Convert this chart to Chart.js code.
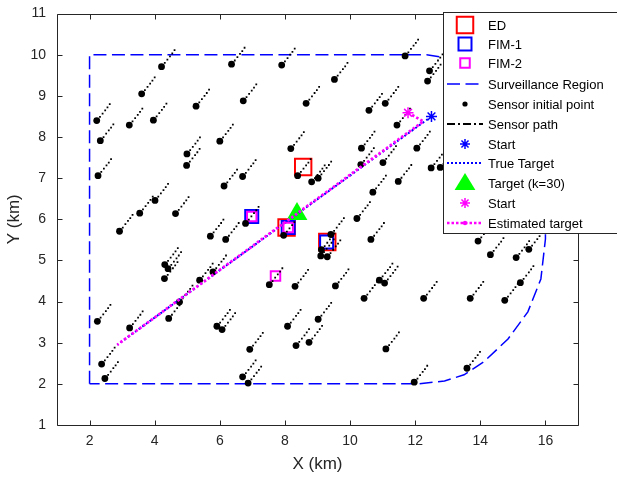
<!DOCTYPE html>
<html>
<head>
<meta charset="utf-8">
<script src="https://cdn.jsdelivr.net/npm/chart.js@4.4.0/dist/chart.umd.min.js"></script>
<style>
  html, body { margin: 0; padding: 0; background: #fff; }
  #wrap { width: 617px; height: 477px; }
</style>
</head>
<body>
<div id="wrap"><canvas id="trackChart" width="617" height="477"></canvas></div>
<script>
// axis ticks (km)
const xTicks = [2, 4, 6, 8, 10, 12, 14, 16];
const yTicks = [1, 2, 3, 4, 5, 6, 7, 8, 9, 10, 11];

// surveillance region outline
const regionX = [2, 2, 12.35, 12.77, 13.6, 14.5, 15.3, 15.8, 16.0, 16.0, 15.86, 15.46, 14.85, 14.1, 13.5, 12.9, 12.07, 2];
const regionY = [2, 10, 10, 9.95, 9.75, 9.3, 8.5, 7.6, 6.6, 5.52, 4.55, 3.75, 3.09, 2.53, 2.22, 2.07, 2.0, 2];

// sensor initial positions
const sensorX = [4.21, 6.36, 3.60, 6.72, 5.27, 2.22, 3.22, 3.96, 2.33, 6.00,
                 4.99, 4.98, 2.26, 6.70, 6.13, 4.01, 7.90, 11.69, 9.52, 12.44,
                 12.38, 8.65, 10.58, 11.08, 11.44, 8.18, 10.35, 12.05, 8.39, 8.82,
                 9.02, 10.33, 11.01, 12.49, 12.77, 11.48, 10.70, 2.92, 3.54, 4.64,
                 6.79, 5.71, 6.18, 4.31, 4.41, 4.30, 5.79, 5.38, 4.76, 2.24,
                 3.23, 4.43, 5.91, 6.07, 2.37, 2.47, 6.70, 6.87, 6.92, 7.96,
                 10.21, 9.41, 9.12, 9.10, 9.30, 10.64, 7.52, 8.31, 9.55, 10.43,
                 10.90, 11.06, 12.26, 8.08, 9.02, 8.34, 8.74, 11.10, 11.97, 13.93,
                 14.31, 15.10, 15.49, 15.23, 13.69, 14.75, 13.59];
const sensorY = [9.71, 9.77, 9.05, 8.88, 8.75, 8.40, 8.29, 8.41, 7.91, 7.90,
                 7.59, 7.31, 7.06, 7.04, 6.81, 6.46, 9.75, 9.97, 9.40, 9.61,
                 9.36, 8.82, 8.65, 8.82, 8.29, 7.72, 7.73, 7.73, 7.06, 6.91,
                 7.00, 7.33, 7.38, 7.25, 7.26, 6.92, 6.66, 5.71, 6.15, 6.14,
                 5.90, 5.59, 5.51, 4.90, 4.80, 4.56, 4.72, 4.52, 3.99, 3.52,
                 3.36, 3.59, 3.40, 3.32, 2.48, 2.13, 2.17, 2.02, 2.84, 5.61,
                 6.02, 5.63, 5.26, 5.11, 5.09, 5.51, 4.41, 4.37, 4.38, 4.08,
                 4.52, 4.45, 4.08, 3.40, 3.57, 2.93, 3.01, 2.85, 2.04, 5.47,
                 5.14, 5.07, 5.27, 4.46, 4.08, 4.03, 2.38];

// sensor path steps, offset from the initial point
const pathDX = [0.10, 0.18, 0.26, 0.33, 0.40];
const pathDY = [0.09, 0.17, 0.25, 0.32, 0.40];

// target tracks
const trueX = [12.5, 2.85];
const trueY = [8.5, 2.95];
const estX = [11.78, 12.25, 2.85];
const estY = [8.59, 8.38, 2.95];
const targetK30X = [8.37];
const targetK30Y = [6.13];

// selected sensors per criterion
const edX = [8.56, 8.05, 9.30];
const edY = [7.27, 5.80, 5.45];
const fim1X = [6.98, 8.10, 9.28];
const fim1Y = [6.07, 5.80, 5.45];
const fim2X = [6.98, 8.10, 7.71];
const fim2Y = [6.07, 5.80, 4.62];

const FONT = "'Liberation Sans', Arial, Helvetica, sans-serif";
const AXIS_GREY = '#262626';

function pts(xs, ys) {
    return xs.map((x, i) => ({ x: x, y: ys[i] }));
}

const pathPoints = [];
sensorX.forEach((sx, i) => {
    pathDX.forEach((dx, k) => {
        pathPoints.push({ x: sx + dx, y: sensorY[i] + pathDY[k] });
    });
});

// box around the axes with inward ticks on all four sides
const axesFrame = {
    id: 'axesFrame',
    afterDatasetsDraw(chart) {
        const { ctx, chartArea: a, scales } = chart;
        const l = Math.round(a.left) + 0.5, r = Math.round(a.right) + 0.5;
        const t = Math.round(a.top) + 0.5, b = Math.round(a.bottom) + 0.5;
        ctx.save();
        ctx.strokeStyle = AXIS_GREY;
        ctx.lineWidth = 1;
        ctx.beginPath();
        ctx.rect(l, t, r - l, b - t);
        xTicks.forEach(v => {
            const px = Math.round(scales.x.getPixelForValue(v)) + 0.5;
            ctx.moveTo(px, b); ctx.lineTo(px, b - 5);
            ctx.moveTo(px, t); ctx.lineTo(px, t + 5);
        });
        yTicks.forEach(v => {
            const py = Math.round(scales.y.getPixelForValue(v)) + 0.5;
            ctx.moveTo(l, py); ctx.lineTo(l + 5, py);
            ctx.moveTo(r, py); ctx.lineTo(r - 5, py);
        });
        ctx.stroke();
        ctx.restore();
    }
};

function drawAsterisk(ctx, x, y, r, color) {
    ctx.save();
    ctx.strokeStyle = color;
    ctx.lineWidth = 1.5;
    ctx.beginPath();
    const d = r * Math.SQRT1_2;
    ctx.moveTo(x - r, y); ctx.lineTo(x + r, y);
    ctx.moveTo(x, y - r); ctx.lineTo(x, y + r);
    ctx.moveTo(x - d, y - d); ctx.lineTo(x + d, y + d);
    ctx.moveTo(x - d, y + d); ctx.lineTo(x + d, y - d);
    ctx.stroke();
    ctx.restore();
}

function drawSample(ctx, x0, x1, y, color, width, dash) {
    ctx.save();
    ctx.strokeStyle = color;
    ctx.lineWidth = width;
    ctx.setLineDash(dash);
    ctx.beginPath();
    ctx.moveTo(x0, y); ctx.lineTo(x1, y);
    ctx.stroke();
    ctx.restore();
}

// legend box in the upper right, one row per dataset
const legendBox = {
    id: 'legendBox',
    afterDraw(chart) {
        const ctx = chart.ctx;
        const bx = 443.5, by = 12.5;
        const rows = [25, 44, 63, 84, 104, 124, 144, 163, 183, 203, 223];
        const sx = 465, l0 = 447, l1 = 483, tx = 488;
        ctx.save();
        ctx.fillStyle = '#fff';
        ctx.fillRect(bx, by, 200, 221);
        ctx.strokeStyle = AXIS_GREY;
        ctx.lineWidth = 1;
        ctx.strokeRect(bx, by, 200, 221);

        const entries = chart.data.datasets
            .filter(ds => ds.legendRow !== undefined)
            .sort((p, q) => p.legendRow - q.legendRow);

        entries.forEach(ds => {
            const y = rows[ds.legendRow];
            switch (ds.legendRow) {
                case 0:
                case 1:
                case 2: {
                    const s = ds.legendSide;
                    ctx.strokeStyle = ds.borderColor;
                    ctx.lineWidth = 2;
                    ctx.strokeRect(sx - s / 2, y - s / 2, s, s);
                    break;
                }
                case 3:
                    drawSample(ctx, l0, l1, y, ds.borderColor, 1.5, ds.borderDash);
                    break;
                case 4:
                    ctx.fillStyle = '#000';
                    ctx.beginPath(); ctx.arc(sx, y, 2.6, 0, Math.PI * 2); ctx.fill();
                    break;
                case 5:
                    drawSample(ctx, l0, l1, y, '#000', 2, [8, 3, 2, 3]);
                    break;
                case 6:
                case 9:
                    drawAsterisk(ctx, sx, y, 5, ds.borderColor);
                    break;
                case 7:
                    drawSample(ctx, l0, l1, y, ds.borderColor, 2, [2, 2]);
                    break;
                case 8:
                    ctx.fillStyle = ds.backgroundColor;
                    ctx.beginPath();
                    ctx.moveTo(sx, y - 10);
                    ctx.lineTo(sx + 10.4, y + 7);
                    ctx.lineTo(sx - 10.4, y + 7);
                    ctx.closePath();
                    ctx.fill();
                    break;
                case 10:
                    drawSample(ctx, l0, l1, y, ds.borderColor, 2.5, [2.5, 2]);
                    ctx.fillStyle = ds.borderColor;
                    ctx.beginPath(); ctx.arc(sx, y, 2.2, 0, Math.PI * 2); ctx.fill();
                    break;
            }
            ctx.fillStyle = '#000';
            ctx.font = '13px ' + FONT;
            ctx.textBaseline = 'middle';
            ctx.textAlign = 'left';
            ctx.fillText(ds.label, tx, y + 1);
        });
        ctx.restore();
    }
};

const tickFont = { family: FONT, size: 14 };

const chart = new Chart(document.getElementById('trackChart'), {
    type: 'scatter',
    data: {
        datasets: [
            {
                label: 'ED', legendRow: 0, legendSide: 16.5, order: 5,
                data: pts(edX, edY),
                pointStyle: 'rect', pointRadius: 11.6, borderWidth: 2,
                borderColor: '#ff0000', backgroundColor: 'rgba(0,0,0,0)'
            },
            {
                label: 'FIM-1', legendRow: 1, legendSide: 13, order: 4,
                data: pts(fim1X, fim1Y),
                pointStyle: 'rect', pointRadius: 9.2, borderWidth: 2,
                borderColor: '#0000ff', backgroundColor: 'rgba(0,0,0,0)'
            },
            {
                label: 'FIM-2', legendRow: 2, legendSide: 9.5, order: 3,
                data: pts(fim2X, fim2Y),
                pointStyle: 'rect', pointRadius: 6.7, borderWidth: 2,
                borderColor: '#ff00ff', backgroundColor: 'rgba(0,0,0,0)'
            },
            {
                label: 'Surveillance Region', legendRow: 3, order: 10,
                data: pts(regionX, regionY),
                showLine: true, pointRadius: 0, borderWidth: 1.5,
                borderColor: '#0000ff', borderDash: [13, 5.5], fill: false
            },
            {
                label: 'Sensor initial point', legendRow: 4, order: 2,
                data: pts(sensorX, sensorY),
                pointRadius: 3.4, borderWidth: 0,
                backgroundColor: '#000', borderColor: '#000'
            },
            {
                label: 'Sensor path', legendRow: 5, order: 2,
                data: pathPoints,
                pointStyle: 'rect', pointRadius: 1.25, borderWidth: 0,
                backgroundColor: '#000', borderColor: '#000'
            },
            {
                label: 'Start', legendRow: 6, order: 0,
                data: pts(trueX.slice(0, 1), trueY.slice(0, 1)),
                pointStyle: 'star', pointRadius: 5.5, borderWidth: 1.5,
                borderColor: '#0000ff', backgroundColor: '#0000ff'
            },
            {
                label: 'True Target', legendRow: 7, order: 1,
                data: pts(trueX, trueY),
                showLine: true, pointRadius: 0, borderWidth: 2,
                borderColor: '#0000ff', borderDash: [2, 2.5], fill: false
            },
            {
                label: 'Target (k=30)', legendRow: 8, order: 1,
                data: pts(targetK30X, targetK30Y),
                pointStyle: 'triangle', pointRadius: 12, borderWidth: 0,
                backgroundColor: '#00ff00', borderColor: '#00ff00'
            },
            {
                label: 'Start', legendRow: 9, order: 0,
                data: pts(estX.slice(0, 1), estY.slice(0, 1)),
                pointStyle: 'star', pointRadius: 5.5, borderWidth: 1.5,
                borderColor: '#ff00ff', backgroundColor: '#ff00ff'
            },
            {
                label: 'Estimated target', legendRow: 10, order: 0,
                data: pts(estX, estY),
                showLine: true, pointRadius: 0, borderWidth: 2.8,
                borderColor: '#ff00ff', borderDash: [2.5, 2.2], fill: false
            }
        ]
    },
    options: {
        responsive: false,
        animation: false,
        layout: { padding: { top: 13, right: 39, bottom: 0, left: 0 } },
        plugins: {
            legend: { display: false },
            tooltip: { enabled: false }
        },
        scales: {
            x: {
                type: 'linear', min: 1, max: 17,
                afterFit: s => { s.height = 52; s.paddingLeft = 0; s.paddingRight = 0; },
                afterBuildTicks: s => { s.ticks = xTicks.map(v => ({ value: v })); },
                grid: { display: false, drawTicks: false },
                border: { display: false },
                ticks: { color: AXIS_GREY, font: tickFont, padding: 8, maxRotation: 0, autoSkip: false },
                title: {
                    display: true, text: 'X (km)', color: AXIS_GREY,
                    font: { family: FONT, size: 17 }, padding: { top: 0, bottom: 2 }
                }
            },
            y: {
                type: 'linear', min: 1, max: 11,
                afterFit: s => { s.width = 57; s.paddingTop = 0; s.paddingBottom = 0; },
                afterBuildTicks: s => { s.ticks = yTicks.map(v => ({ value: v })); },
                grid: { display: false, drawTicks: false },
                border: { display: false },
                ticks: { color: AXIS_GREY, font: tickFont, padding: 11, autoSkip: false },
                title: {
                    display: true, text: 'Y (km)', color: AXIS_GREY,
                    font: { family: FONT, size: 17 }, padding: { top: 4, bottom: 0 }
                }
            }
        }
    },
    plugins: [axesFrame, legendBox]
});
</script>
</body>
</html>
